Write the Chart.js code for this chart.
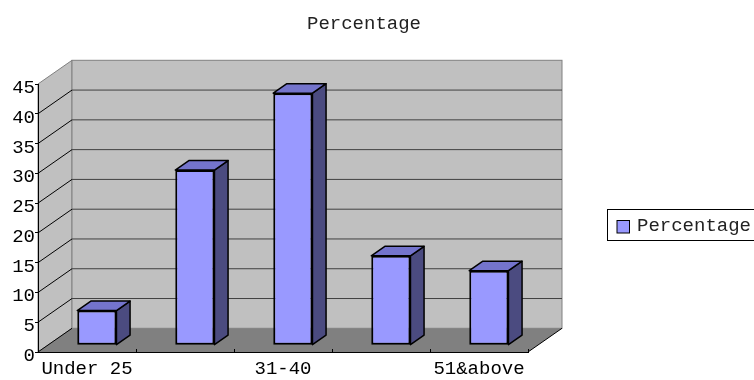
<!DOCTYPE html>
<html lang="en">
<head>
<meta charset="UTF-8" />
<title>Percentage</title>
<script src="https://cdn.jsdelivr.net/npm/chart.js"></script>
<style>
  body { margin: 0; background: #fff; }
  canvas { display: block; }
</style>
</head>
<body>
<canvas id="chart" width="754" height="380"></canvas>
<script>
// data
const categories = ['Under 25', '26-30', '31-40', '41-50', '51&above'];
const percentages = [5.8, 29.4, 42.3, 15, 12.5];
const yTickValues = [0, 5, 10, 15, 20, 25, 30, 35, 40, 45];
const seriesName = 'Percentage';

// 3d look: depth of the box and where the bars sit inside it
const DEPTH_X = 34, DEPTH_Y = -23.7;
const BAR_FRONT = 0.29, BAR_BACK = 0.69;
const FONT = '19px "Liberation Mono", "DejaVu Sans Mono", monospace';

function poly(ctx, pts) {
  ctx.beginPath();
  pts.forEach((p, i) => i ? ctx.lineTo(p[0], p[1]) : ctx.moveTo(p[0], p[1]));
  ctx.closePath();
}

const box3d = {
  id: 'box3d',
  beforeDraw(chart) {
    const { ctx, chartArea: a, scales: { y } } = chart;
    const dx = DEPTH_X, dy = DEPTH_Y;
    ctx.save();
    ctx.lineWidth = 1;
    // left wall
    ctx.fillStyle = '#c0c0c0';
    ctx.strokeStyle = '#808080';
    poly(ctx, [[a.left, a.top], [a.left + dx, a.top + dy], [a.left + dx, a.bottom + dy], [a.left, a.bottom]]);
    ctx.fill(); ctx.stroke();
    // back wall
    ctx.fillRect(a.left + dx, a.top + dy, a.right - a.left, a.bottom - a.top);
    ctx.strokeRect(a.left + dx, a.top + dy, a.right - a.left, a.bottom - a.top);
    // floor
    ctx.fillStyle = '#808080';
    poly(ctx, [[a.left, a.bottom], [a.left + dx, a.bottom + dy], [a.right + dx, a.bottom + dy], [a.right, a.bottom]]);
    ctx.fill();
    // gridlines on the back wall + diagonals on the left wall
    const top = yTickValues[yTickValues.length - 1];
    yTickValues.forEach(v => {
      const py = y.getPixelForValue(v);
      if (v !== 0 && v !== top) {
        ctx.strokeStyle = '#404040';
        ctx.beginPath();
        ctx.moveTo(a.left + dx, py + dy);
        ctx.lineTo(a.right + dx, py + dy);
        ctx.stroke();
      }
      if (v !== top) {
        ctx.strokeStyle = '#000';
        ctx.beginPath();
        ctx.moveTo(a.left, py);
        ctx.lineTo(a.left + dx, py + dy);
        ctx.stroke();
      }
    });
    // right edge of the floor
    ctx.strokeStyle = '#000';
    ctx.beginPath();
    ctx.moveTo(a.right, a.bottom);
    ctx.lineTo(a.right + dx, a.bottom + dy);
    ctx.stroke();
    ctx.restore();
  },
  beforeDatasetsDraw(chart) {
    const ctx = chart.ctx;
    const bdx = DEPTH_X * (BAR_BACK - BAR_FRONT), bdy = DEPTH_Y * (BAR_BACK - BAR_FRONT);
    ctx.save();
    ctx.translate(DEPTH_X * BAR_FRONT, DEPTH_Y * BAR_FRONT);
    ctx.lineWidth = 1.5;
    ctx.strokeStyle = '#000';
    ctx.lineJoin = 'round';
    chart.getDatasetMeta(0).data.forEach(bar => {
      const { x, y, base, width } = bar.getProps(['x', 'y', 'base', 'width'], true);
      const l = x - width / 2, r = x + width / 2;
      // side face
      ctx.fillStyle = '#4b4b80';
      poly(ctx, [[r, y], [r + bdx, y + bdy], [r + bdx, base + bdy], [r, base]]);
      ctx.fill(); ctx.stroke();
      // top face
      ctx.fillStyle = '#7474cc';
      poly(ctx, [[l, y], [l + bdx, y + bdy], [r + bdx, y + bdy], [r, y]]);
      ctx.fill(); ctx.stroke();
    });
    // front faces are drawn by chart.js inside this translation
  },
  afterDatasetsDraw(chart) {
    chart.ctx.restore();
  },
  afterDraw(chart) {
    const { ctx, chartArea: a } = chart;
    const ds = chart.data.datasets[0];
    ctx.save();
    // small x tick marks between categories
    ctx.strokeStyle = '#000';
    ctx.lineWidth = 1;
    for (let i = 0; i <= categories.length; i++) {
      const px = Math.round(a.left + (a.right - a.left) * i / categories.length) + 0.5;
      ctx.beginPath();
      ctx.moveTo(px, a.bottom);
      ctx.lineTo(px, a.bottom - 3);
      ctx.stroke();
    }
    // title
    ctx.font = FONT;
    ctx.fillStyle = '#222';
    ctx.textAlign = 'center';
    ctx.textBaseline = 'middle';
    ctx.fillText(ds.label, 364, 24);
    // legend with frame
    ctx.strokeStyle = '#000';
    ctx.strokeRect(607.5, 209.5, 170, 31);
    ctx.fillStyle = ds.backgroundColor;
    ctx.fillRect(617, 220.5, 12.5, 12.5);
    ctx.strokeRect(617, 220.5, 12.5, 12.5);
    ctx.fillStyle = '#222';
    ctx.textAlign = 'left';
    ctx.fillText(ds.label, 637, 226);
    ctx.restore();
  }
};

Chart.defaults.font.family = '"Liberation Mono", "DejaVu Sans Mono", monospace';
Chart.defaults.font.size = 19;
Chart.defaults.color = '#000';

new Chart(document.getElementById('chart'), {
  type: 'bar',
  data: {
    labels: categories,
    datasets: [{
      label: seriesName,
      data: percentages,
      backgroundColor: '#9999ff',
      borderColor: '#000',
      borderWidth: 2,
      borderSkipped: false,
      categoryPercentage: 1,
      barPercentage: 0.4,
      clip: false
    }]
  },
  options: {
    responsive: false,
    animation: false,
    layout: { padding: { top: 84, left: 0, right: 226, bottom: 0 } },
    plugins: {
      legend: { display: false },
      title: { display: false },
      tooltip: { enabled: false }
    },
    scales: {
      x: {
        offset: true,
        grid: { display: false, drawTicks: false, tickLength: 0 },
        border: { color: '#000', width: 1 },
        ticks: {
          autoSkip: false,
          maxRotation: 0,
          padding: 6,
          callback: (v, i) => i % 2 === 0 ? categories[i] : ''
        },
        afterFit: s => { s.height = 28; }
      },
      y: {
        min: 0,
        max: 45,
        grid: { drawOnChartArea: false, tickLength: 3, color: '#000' },
        border: { color: '#000', width: 1 },
        ticks: { padding: 0, labelOffset: 4 },
        afterBuildTicks: s => { s.ticks = yTickValues.map(v => ({ value: v })); },
        afterFit: s => { s.width = 38; }
      }
    }
  },
  plugins: [box3d]
});
</script>
</body>
</html>
